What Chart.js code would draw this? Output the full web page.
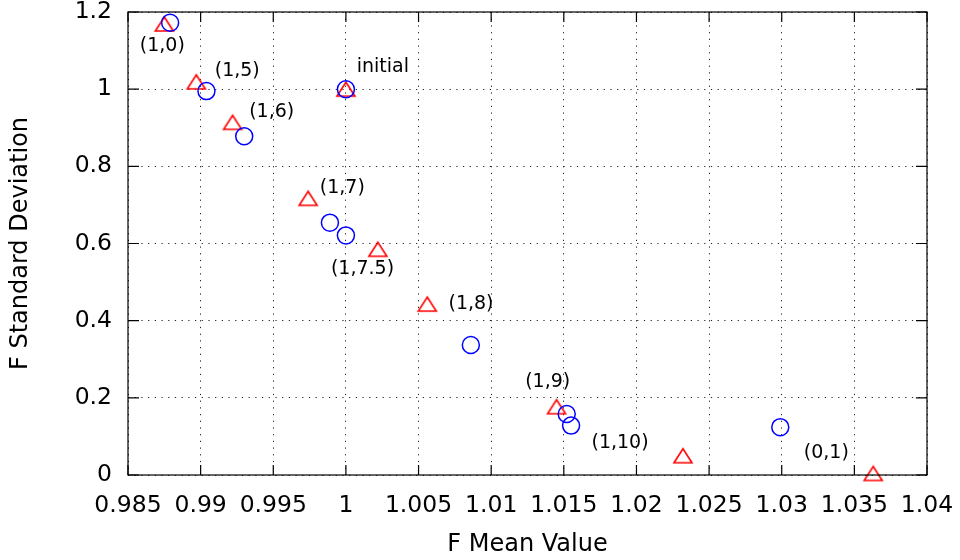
<!DOCTYPE html>
<html>
<head>
<meta charset="utf-8">
<script src="https://cdn.jsdelivr.net/npm/chart.js@4"></script>
<style>
  html, body { margin: 0; padding: 0; background: #fff; }
  #wrap { width: 960px; height: 560px; }
</style>
</head>
<body>
<div id="wrap"><canvas id="chart"></canvas></div>
<script>
// blue circles
const meanCircle = [0.9879, 0.9904, 0.9930, 1.0000, 0.9989, 1.0000, 1.0086, 1.0152, 1.0155, 1.0299];
const sdCircle   = [1.172, 0.995, 0.878, 1.000, 0.654, 0.621, 0.337, 0.158, 0.128, 0.124];
// red triangles
const meanTri = [0.9875, 0.9897, 0.9922, 1.0000, 0.9974, 1.0022, 1.0056, 1.0145, 1.0232, 1.0363];
const sdTri   = [1.169, 1.019, 0.914, 1.000, 0.717, 0.585, 0.443, 0.177, 0.050, 0.004];

// point annotations, anchored in data units
const pointLabels = ['(1,0)', '(1,5)', '(1,6)', 'initial', '(1,7)', '(1,7.5)', '(1,8)', '(1,9)', '(1,10)', '(0,1)'];
const labelMean = [0.98736, 0.99252, 0.99489, 1.00254, 0.99975, 1.00114, 1.00861, 1.01389, 1.01887, 1.03307];
const labelSd   = [1.112, 1.047, 0.940, 1.056, 0.744, 0.533, 0.443, 0.242, 0.082, 0.057];

const FONT = "'DejaVu Sans', 'Liberation Sans', sans-serif";

// gnuplot-like open triangle, centred on its bounding box
function triangleMarker() {
  const c = document.createElement('canvas');
  c.width = 22; c.height = 18;
  const g = c.getContext('2d');
  g.strokeStyle = '#ff0000';
  g.lineWidth = 1.6;
  g.beginPath();
  g.moveTo(2, 16); g.lineTo(20, 16); g.lineTo(11, 2); g.closePath();
  g.stroke();
  return c;
}

const frame = {
  id: 'frame',
  afterDatasetsDraw(chart) {
    const { ctx, chartArea: a, scales: { x, y } } = chart;
    ctx.save();
    ctx.strokeStyle = '#000';
    ctx.lineWidth = 1.2;
    ctx.strokeRect(a.left, a.top, a.right - a.left, a.bottom - a.top);
    ctx.beginPath();
    x.ticks.forEach(t => {
      const px = x.getPixelForValue(t.value);
      ctx.moveTo(px, a.bottom); ctx.lineTo(px, a.bottom - 10);
      ctx.moveTo(px, a.top); ctx.lineTo(px, a.top + 10);
    });
    y.ticks.forEach(t => {
      const py = y.getPixelForValue(t.value);
      ctx.moveTo(a.left, py); ctx.lineTo(a.left + 11, py);
      ctx.moveTo(a.right, py); ctx.lineTo(a.right - 11, py);
    });
    ctx.stroke();

    ctx.fillStyle = '#000';
    ctx.textAlign = 'center';
    ctx.textBaseline = 'middle';
    ctx.font = '19px ' + FONT;
    pointLabels.forEach((s, i) => {
      ctx.fillText(s, x.getPixelForValue(labelMean[i]), y.getPixelForValue(labelSd[i]));
    });

    ctx.font = '24px ' + FONT;
    ctx.fillText('F Mean Value', (a.left + a.right) / 2, 545);
    ctx.translate(21, (a.top + a.bottom) / 2);
    ctx.rotate(-Math.PI / 2);
    ctx.fillText('F Standard Deviation', 0, 0);
    ctx.restore();
  }
};

const fmt = v => String(+(+v).toFixed(3));

new Chart(document.getElementById('chart'), {
  type: 'scatter',
  data: {
    datasets: [{
      data: meanCircle.map((m, i) => ({ x: m, y: sdCircle[i] })),
      pointStyle: 'circle',
      pointRadius: 8.5,
      pointHoverRadius: 8.5,
      borderColor: '#0000ff',
      backgroundColor: 'rgba(0,0,0,0)',
      pointBorderWidth: 1.5,
      clip: false
    }, {
      data: meanTri.map((m, i) => ({ x: m, y: sdTri[i] })),
      pointStyle: triangleMarker(),
      borderColor: '#ff0000',
      clip: false
    }]
  },
  options: {
    responsive: true,
    maintainAspectRatio: false,
    animation: false,
    layout: { padding: 0 },
    plugins: {
      legend: { display: false },
      tooltip: { enabled: false }
    },
    scales: {
      x: {
        type: 'linear',
        min: 0.985,
        max: 1.04,
        ticks: {
          stepSize: 0.005,
          padding: 19,
          color: '#000',
          font: { family: FONT, size: 23.5, lineHeight: 1 },
          maxRotation: 0,
          autoSkip: false,
          callback: fmt
        },
        grid: { color: '#222', lineWidth: 1, drawTicks: false },
        border: { display: false, dash: [1.2, 5.5] },
        afterFit: s => {
          s.height = 85;
          s.paddingLeft = 0; s.paddingRight = 33; s.paddingTop = 0; s.paddingBottom = 0;
        }
      },
      y: {
        type: 'linear',
        min: 0,
        max: 1.2,
        ticks: {
          stepSize: 0.2,
          padding: 16,
          color: '#000',
          font: { family: FONT, size: 23.5, lineHeight: 1 },
          callback: fmt
        },
        grid: { color: '#222', lineWidth: 1, drawTicks: false },
        border: { display: false, dash: [1.2, 5.5] },
        afterFit: s => {
          s.width = 128;
          s.paddingLeft = 0; s.paddingRight = 0; s.paddingTop = 12; s.paddingBottom = 0;
        }
      }
    }
  },
  plugins: [frame]
});
</script>
</body>
</html>
